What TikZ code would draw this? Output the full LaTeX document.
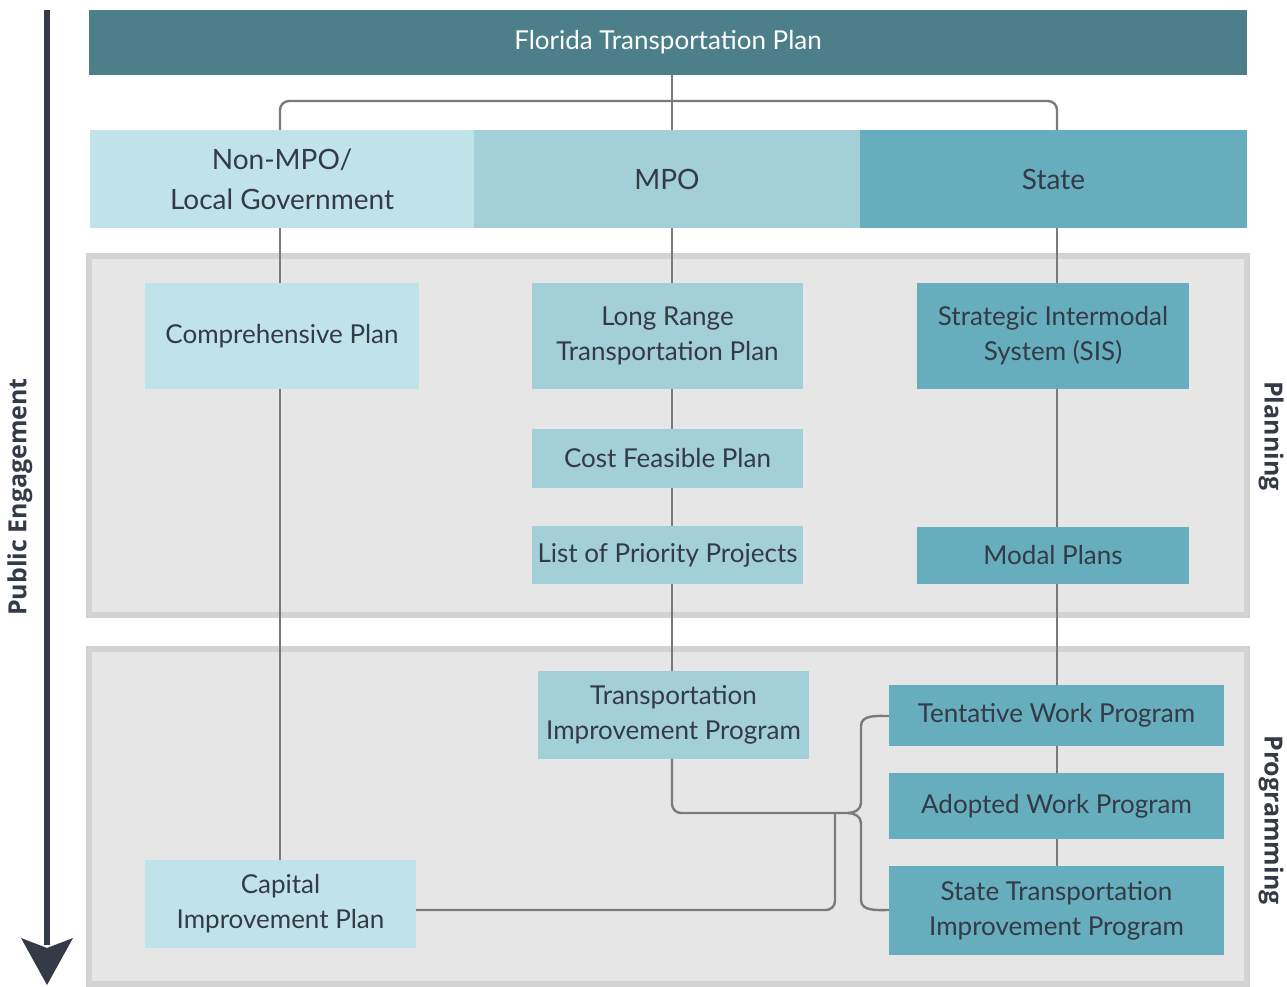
\documentclass[tikz,border=0pt]{standalone}
\usepackage{fontspec}
\setmainfont{Lato}
\newfontfamily\boldsans{Open Sans}
\definecolor{topc}{HTML}{4C7F89}
\definecolor{lightc}{HTML}{C0E3E9}
\definecolor{midc}{HTML}{A2CFD8}
\definecolor{darkc}{HTML}{66AEBE}
\definecolor{panelfill}{HTML}{E6E6E6}
\definecolor{panelbord}{HTML}{D3D3D3}
\definecolor{linec}{HTML}{7A7A7A}
\definecolor{txt}{HTML}{343A46}
\tikzset{
  boxn/.style={draw=none, inner sep=0pt, align=center, text=txt,
    font=\fontsize{26}{35}\selectfont},
  rown/.style={boxn, font=\fontsize{28}{40}\selectfont},
  conn/.style={draw=linec, line width=2.4pt},
  panel/.style={fill=panelfill, draw=panelbord, line width=6pt},
  sidelabel/.style={text=txt, font=\boldsans\bfseries\fontsize{25}{28}\selectfont}
}
\begin{document}
\begin{tikzpicture}[x=1pt,y=-1pt]
\useasboundingbox (0,0) rectangle (1287,987);
% panels
\draw[panel] (89,256) rectangle (1247,615);
\draw[panel] (89,649) rectangle (1247,984);
% coordinates for line columns
\coordinate (l1) at (280,0);
\coordinate (l2) at (672,0);
\coordinate (l3) at (1057,0);
\coordinate (hub) at (672,101);
\coordinate (bt) at (848,813);
\coordinate (cj) at (835,813);
% nodes
\node[boxn, fill=topc, minimum width=1158, minimum height=65, text=white,
  font=\fontsize{26}{30}\selectfont] (top) at (668,42.5) {Florida Transportation Plan};
\node[rown, fill=lightc, minimum width=384, minimum height=98] (nonmpo) at (282,179) {Non-MPO/\\Local Government};
\node[rown, fill=midc, minimum width=386, minimum height=98] (mpo) at (667,179) {MPO};
\node[rown, fill=darkc, minimum width=387, minimum height=98] (state) at (1053.5,179) {State};
% end points on the lower boxes
\coordinate (capn) at (280,860);
\coordinate (tipn) at (672,671);
\coordinate (tips) at (672,759);
\coordinate (stipn) at (1057,866);
\coordinate (tentw) at (889,716);
\coordinate (stipw) at (889,910);
\coordinate (cape) at (416,910);
% connectors (drawn before boxes)
\draw[conn] (top.south -| l2) -- (mpo.north -| l2);
\draw[conn, rounded corners=9] (nonmpo.north -| l1) -- (hub -| l1) -- (hub -| l3) -- (state.north -| l3);
\draw[conn] (nonmpo.south -| l1) -- (capn);
\draw[conn] (mpo.south -| l2) -- (tipn);
\draw[conn] (state.south -| l3) -- (stipn);
\draw[conn, rounded corners=9] (tips) -- (bt -| l2) -- (bt);
\draw[conn, rounded corners=9] (cape) -- (cape -| cj) -- (cj);
% brace
\draw[conn] (tentw) to[out=180,in=90] (861,726) -- (861,803) to[out=-90,in=0] (bt);
\draw[conn] (bt) to[out=0,in=90] (861,823) -- (861,900) to[out=-90,in=180] (stipw);
% boxes
\node[boxn, fill=lightc, minimum width=274, minimum height=106] (comp) at (282,336) {Comprehensive Plan};
\node[boxn, fill=midc, minimum width=271, minimum height=106] (lrtp) at (667.5,336) {Long Range\\Transportation Plan};
\node[boxn, fill=darkc, minimum width=272, minimum height=106] (sis) at (1053,336) {Strategic Intermodal\\System (SIS)};
\node[boxn, fill=midc, minimum width=271, minimum height=59] (cost) at (667.5,458.5) {Cost Feasible Plan};
\node[boxn, fill=midc, minimum width=271, minimum height=58] (lopp) at (667.5,555) {List of Priority Projects};
\node[boxn, fill=darkc, minimum width=272, minimum height=57] (modal) at (1053,555.5) {Modal Plans};
\node[boxn, fill=midc, minimum width=271, minimum height=88] (tip) at (673.5,715) {Transportation\\Improvement Program};
\node[boxn, fill=darkc, minimum width=335, minimum height=61] (tent) at (1056.5,715.5) {Tentative Work Program};
\node[boxn, fill=darkc, minimum width=335, minimum height=66] (adopt) at (1056.5,806) {Adopted Work Program};
\node[boxn, fill=darkc, minimum width=335, minimum height=89] (stip) at (1056.5,910.5) {State Transportation\\Improvement Program};
\node[boxn, fill=lightc, minimum width=271, minimum height=88] (cap) at (280.5,904) {Capital\\Improvement Plan};
% public engagement arrow
\coordinate (as) at (47,10);
\coordinate (at) at (47,985);
\draw[draw=txt, line width=6pt] (as) -- (47,945);
\fill[txt] (at) -- (21,938) -- (47,948) -- (73,938) -- cycle;
\node[sidelabel, rotate=90] (pe) at (20,497) {Public Engagement};
\node[sidelabel, rotate=-90] (plan) at (1271,436) {Planning};
\node[sidelabel, rotate=-90] (prog) at (1271,820) {Programming};
\end{tikzpicture}
\end{document}
